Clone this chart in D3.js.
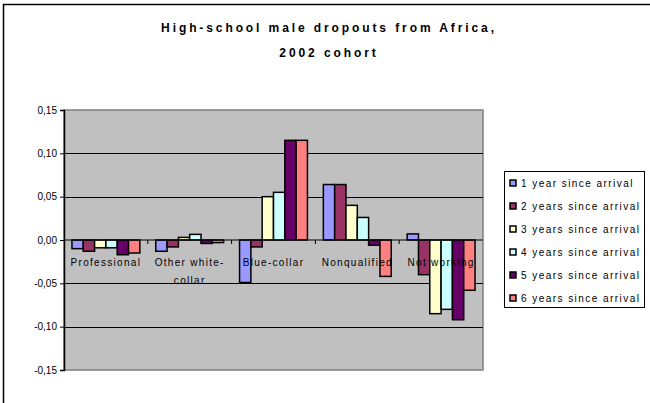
<!DOCTYPE html>
<html><head><meta charset="utf-8">
<script src="https://cdn.jsdelivr.net/npm/d3@7"></script>
<style>body{margin:0;background:#fff}svg{display:block;font-family:"Liberation Sans",Arial,sans-serif}</style>
</head><body><svg id="c" width="650" height="403"></svg>
<script>
const categories = ["Professional", "Other white-collar", "Blue-collar", "Nonqualified", "Not working"];
const seriesNames = ["1 year since arrival","2 years since arrival","3 years since arrival","4 years since arrival","5 years since arrival","6 years since arrival"];
const s1 = [-0.010, -0.013, -0.049, 0.064, 0.007];
const s2 = [-0.013, -0.008, -0.008, 0.064, -0.040];
const s3 = [-0.009, 0.003, 0.050, 0.040, -0.085];
const s4 = [-0.009, 0.0065, 0.055, 0.026, -0.080];
const s5 = [-0.017, -0.004, 0.115, -0.006, -0.092];
const s6 = [-0.015, -0.003, 0.115, -0.042, -0.058];
const seriesValues = [s1, s2, s3, s4, s5, s6];
const colors = ["#9999FF","#993366","#FFFFCC","#CCFFFF","#660066","#FF8080"];
const yTicks = [-0.15,-0.10,-0.05,0,0.05,0.10,0.15];

const svg = d3.select("#c");
const L = 64, R = 483, T = 110, B = 370;

// outer chart frame (top/left visible)
svg.append("rect").attr("x",3.5).attr("y",4.5).attr("width",700).attr("height",500)
  .attr("fill","none").attr("stroke","#000").attr("stroke-width",1.5);

// title
const title = svg.append("text").attr("text-anchor","middle").attr("font-weight","bold")
  .attr("font-size",12).attr("letter-spacing",2.9).attr("fill","#000");
title.append("tspan").attr("x",329).attr("y",32).text("High-school male dropouts from Africa,");
title.append("tspan").attr("x",329).attr("y",57).text("2002 cohort");

const x = d3.scaleBand().domain(categories).range([L,R]).padding(0);
const xi = d3.scaleBand().domain(d3.range(6)).range([x.bandwidth()*0.095, x.bandwidth()*0.905]).padding(0);
const y = d3.scaleLinear().domain([-0.15,0.15]).range([B,T]);

// plot area
svg.append("rect").attr("x",L).attr("y",T).attr("width",R-L).attr("height",B-T)
  .attr("fill","#C0C0C0").attr("stroke","#808080").attr("stroke-width",1.5);

// gridlines
svg.append("g").selectAll("line").data(yTicks.filter(t=>t>-0.15 && t<0.15 && t!==0)).join("line")
  .attr("x1",L).attr("x2",R).attr("y1",d=>Math.round(y(d))+0.5).attr("y2",d=>Math.round(y(d))+0.5)
  .attr("stroke","#000").attr("stroke-width",1);

// y axis
const fmt = d => d3.format(".2f")(d).replace(".",",").replace("−","-");
const yAxis = svg.append("g").attr("transform",`translate(${L},0)`)
  .call(d3.axisLeft(y).tickValues(yTicks).tickSize(4).tickPadding(3).tickFormat(fmt));
yAxis.selectAll("text").attr("font-size",10).attr("fill","#000").attr("font-family","Liberation Sans, Arial, sans-serif");
yAxis.select(".domain").attr("stroke","#000").attr("stroke-width",1.5);
yAxis.selectAll(".tick line").attr("stroke","#000");

// bars
const g = svg.append("g");
seriesValues.forEach((vals, si) => {
  g.selectAll(null).data(vals.map((v,ci)=>({v,ci}))).join("rect")
    .attr("x", d => x(categories[d.ci]) + xi(si))
    .attr("width", xi.bandwidth())
    .attr("y", d => y(Math.max(0,d.v)))
    .attr("height", d => Math.abs(y(d.v)-y(0)))
    .attr("fill", colors[si]).attr("stroke","#000").attr("stroke-width",1.5);
});

// zero axis line with category ticks
svg.append("line").attr("x1",L).attr("x2",R).attr("y1",y(0)).attr("y2",y(0))
  .attr("stroke","#000").attr("stroke-width",1);
svg.append("g").selectAll("line").data(categories.slice(1)).join("line")
  .attr("x1",d=>x(d)).attr("x2",d=>x(d)).attr("y1",y(0)).attr("y2",y(0)+4)
  .attr("stroke","#000");

// category labels
const labelLines = {"Other white-collar":["Other white-","collar"]};
categories.forEach(c => {
  const lines = labelLines[c] || [c];
  const t = svg.append("text").attr("text-anchor","middle").attr("font-size",10)
    .attr("letter-spacing",1.3).attr("fill","#000");
  lines.forEach((ln,i)=>t.append("tspan").attr("x",x(c)+x.bandwidth()/2).attr("y",y(0)+26+i*18).text(ln));
});

// legend
const lg = svg.append("g");
lg.append("rect").attr("x",504.5).attr("y",171.5).attr("width",140).attr("height",136)
  .attr("fill","#fff").attr("stroke","#000").attr("stroke-width",1);
seriesNames.forEach((n,i)=>{
  const yy = 183 + i*23;
  lg.append("rect").attr("x",510).attr("y",yy-3).attr("width",6).attr("height",6)
    .attr("fill",colors[i]).attr("stroke","#000").attr("stroke-width",1.5);
  lg.append("text").attr("x",521).attr("y",yy+4).attr("font-size",10)
    .attr("letter-spacing",1.45).attr("fill","#000").text(n);
});
</script></body></html>
